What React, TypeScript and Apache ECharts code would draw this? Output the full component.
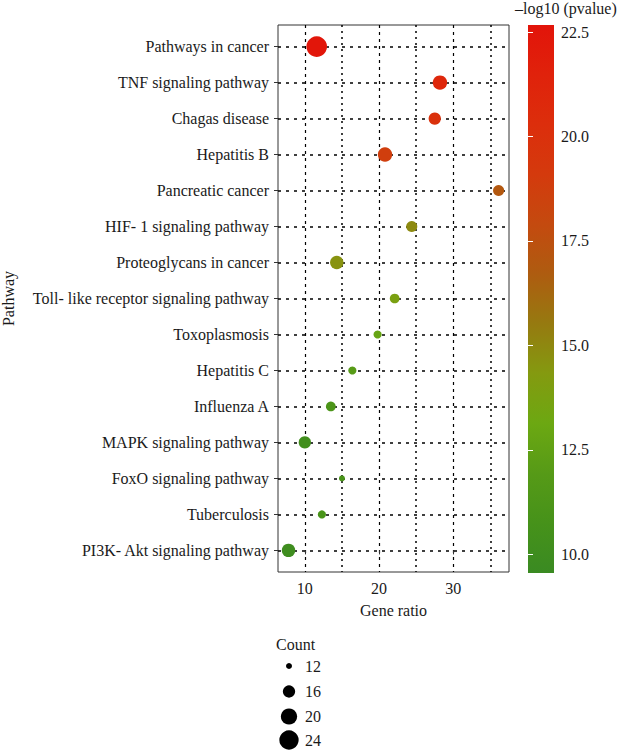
import React, { useEffect, useRef } from "react";
import * as echarts from "echarts";

const pathways = [
  "PI3K- Akt signaling pathway",
  "Tuberculosis",
  "FoxO signaling pathway",
  "MAPK signaling pathway",
  "Influenza A",
  "Hepatitis C",
  "Toxoplasmosis",
  "Toll- like receptor signaling pathway",
  "Proteoglycans in cancer",
  "HIF- 1 signaling pathway",
  "Pancreatic cancer",
  "Hepatitis B",
  "Chagas disease",
  "TNF signaling pathway",
  "Pathways in cancer",
];
const geneRatio = [7.8, 12.3, 15.0, 10.0, 13.5, 16.4, 19.8, 22.1, 14.3, 24.4, 36.1, 20.8, 27.5, 28.2, 11.6];
const counts = [17, 13, 12, 16, 14, 13, 13, 14, 17, 15, 15, 18, 16, 18, 26];
const negLogP = [10.0, 11.0, 11.0, 10.3, 11.2, 12.0, 12.8, 13.8, 14.6, 14.9, 17.0, 18.8, 20.0, 21.0, 22.5];

const xTicks = [10, 20, 30];
const xMinorLines = [15, 25, 35];
const colorTicks = [10, 12.5, 15, 17.5, 20, 22.5];
const countBreaks = [12, 16, 20, 24];

const colorMin = 9.55;
const colorMax = 22.67;
const colorStops = [
  "#3a8a22", "#46921a", "#569a17", "#6ca812", "#849a10", "#967a10",
  "#ae5c10", "#c44a0f", "#d43a0d", "#dc2e0c", "#e0220b", "#e2140a",
];

const sizeFn = (c: number) => 0.9 + 19.1 * Math.sqrt(Math.max(0, c - 11) / 14);

const FONT = "'Liberation Serif', 'DejaVu Serif', serif";
const FS = 16;

export default function App() {
  const ref = useRef<HTMLDivElement>(null);
  useEffect(() => {
    if (!ref.current) return;
    const chart = echarts.init(ref.current, undefined, { renderer: "svg" });
    const data = pathways.map((_, i) => [geneRatio[i], i, negLogP[i], counts[i]]);
    const yIdx = pathways.map((_, i) => i);

    const gradient = new echarts.graphic.LinearGradient(
      0, 1, 0, 0,
      colorStops.map((c, i) => ({ offset: i / (colorStops.length - 1), color: c }))
    );

    const legendX = 289;
    const legendYs = [666, 691.5, 716.5, 740];
    const legendGraphics: any[] = [
      {
        type: "text",
        left: 276,
        top: 636,
        style: { text: "Count", font: `${FS}px ${FONT}`, fill: "#1a1a1a" },
      },
    ];
    countBreaks.forEach((c, i) => {
      legendGraphics.push({
        type: "circle",
        shape: { cx: legendX, cy: legendYs[i], r: sizeFn(c) / 2 },
        style: { fill: "#000" },
      });
      legendGraphics.push({
        type: "text",
        x: 305,
        y: legendYs[i],
        style: {
          text: String(c),
          font: `${FS}px ${FONT}`,
          fill: "#1a1a1a",
          verticalAlign: "middle",
        },
      });
    });

    const option: any = {
      animation: false,
      backgroundColor: "#fff",
      textStyle: { fontFamily: FONT },
      grid: [
        {
          left: 278, top: 25, width: 231, height: 547,
          show: true, borderColor: "#333", borderWidth: 1,
          backgroundColor: "transparent",
          outerBoundsMode: "none",
        },
        {
          left: 528, top: 25, width: 26, height: 548,
          show: true, borderWidth: 0, backgroundColor: gradient,
          outerBoundsMode: "none",
        },
      ],
      xAxis: [
        {
          type: "value", gridIndex: 0, min: 6.385, max: 37.5,
          name: "Gene ratio", nameLocation: "middle", nameGap: 30,
          nameTextStyle: { fontSize: FS, color: "#1a1a1a", fontFamily: FONT },
          axisLine: { show: false },
          axisTick: { show: true, length: 4, customValues: xTicks, lineStyle: { color: "#333" } },
          axisLabel: { customValues: xTicks, fontSize: FS, color: "#1a1a1a", margin: 8, fontFamily: FONT },
          splitLine: { show: true, lineStyle: { color: "#000", type: [3, 4], width: 1.2 } },
        },
        {
          type: "value", gridIndex: 0, min: 6.385, max: 37.5, position: "bottom",
          axisLine: { show: false },
          axisTick: { show: false, customValues: xMinorLines },
          axisLabel: { show: false },
          splitLine: { show: true, lineStyle: { color: "#000", type: [2, 4], width: 1.5 } },
        },
        {
          type: "value", gridIndex: 1, show: false,
        },
      ],
      yAxis: [
        {
          type: "value", gridIndex: 0, min: -0.6, max: 14.6,
          name: "Pathway", nameLocation: "middle", nameGap: 262, nameRotate: 90,
          nameTextStyle: { fontSize: FS, color: "#1a1a1a", fontFamily: FONT },
          axisLine: { show: false },
          axisTick: { show: true, length: 4, customValues: yIdx, lineStyle: { color: "#333" } },
          axisLabel: {
            customValues: yIdx, fontSize: FS, color: "#1a1a1a", margin: 9, fontFamily: FONT,
            formatter: (v: number) => pathways[Math.round(v)] ?? "",
          },
          splitLine: { show: true, lineStyle: { color: "#000", type: [3, 5], width: 1.5 } },
        },
        {
          type: "value", gridIndex: 1, min: colorMin, max: colorMax, position: "right",
          axisLine: { show: false },
          axisTick: {
            show: true, inside: true, length: 5, customValues: colorTicks,
            lineStyle: { color: "#fff", width: 1 },
          },
          axisLabel: {
            customValues: colorTicks, fontSize: FS, color: "#1a1a1a", margin: 7, fontFamily: FONT,
            formatter: (v: number) => v.toFixed(1),
          },
          splitLine: { show: false },
        },
        {
          type: "value", gridIndex: 1, min: colorMin, max: colorMax, position: "left",
          axisLine: { show: false },
          axisTick: {
            show: true, inside: true, length: 5, customValues: colorTicks,
            lineStyle: { color: "#fff", width: 1 },
          },
          axisLabel: { show: false },
          splitLine: { show: false },
        },
      ],
      visualMap: {
        type: "continuous", show: false, dimension: 2, seriesIndex: 0,
        min: colorMin, max: colorMax, inRange: { color: colorStops },
      },
      series: [
        {
          type: "scatter", xAxisIndex: 0, yAxisIndex: 0,
          data,
          symbol: "circle",
          symbolSize: (val: number[]) => sizeFn(val[3]),
          itemStyle: { opacity: 1 },
          z: 5,
        },
      ],
      graphic: [
        {
          type: "text",
          left: 515,
          top: 0,
          style: { text: "–log10 (pvalue)", font: `${FS}px ${FONT}`, fill: "#1a1a1a" },
        },
        ...legendGraphics,
      ],
    };
    chart.setOption(option);
    return () => chart.dispose();
  }, []);
  return (
    <div
      ref={ref}
      style={{ position: "fixed", left: 0, top: 0, width: 629, height: 752, background: "#fff" }}
    />
  );
}
